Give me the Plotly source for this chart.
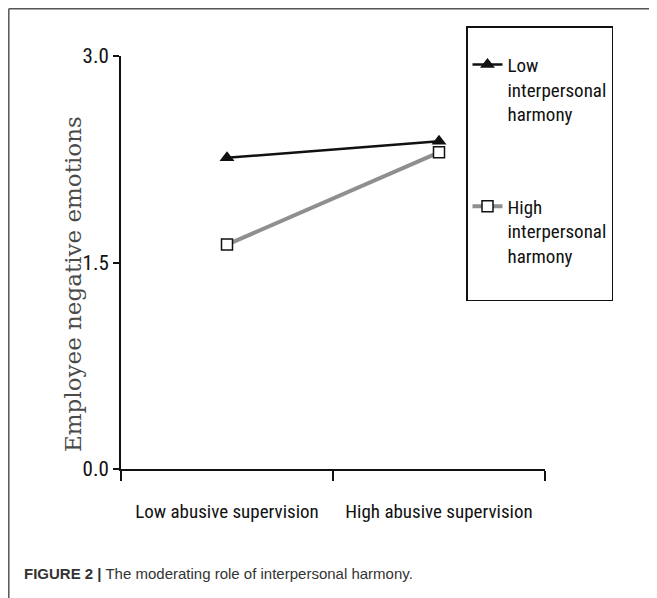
import plotly.graph_objects as go

# ---- data ----
categories = ["Low abusive supervision", "High abusive supervision"]
low_harmony = [2.26, 2.38]
high_harmony = [1.63, 2.30]
series_names = ["Low<br>interpersonal<br>harmony<br> ", "High<br>interpersonal<br>harmony<br> "]
y_ticks = [0.0, 1.5, 3.0]
y_title = "Employee negative emotions"
caption_bold = "FIGURE 2 |"
caption_text = " The moderating role of interpersonal harmony."

# ---- layout geometry (pixels, page coordinates; page body has an 8px margin) ----
OFF = 8
W, H = 657 - OFF, 598 - OFF
L, R, T, B = 121 - OFF, 545 - OFF, 56 - OFF, 469 - OFF
pw, ph = R - L, B - T

def px_x(x):
    return (x - OFF - L) / pw

def px_y(y):
    return (B - (y - OFF)) / ph

NARROW = "Roboto Condensed, DejaVu Sans Condensed, sans-serif"

fig = go.Figure()
fig.add_trace(go.Scatter(
    x=categories, y=low_harmony, name=series_names[0], mode="lines+markers",
    line=dict(color="#111111", width=2.5),
    marker=dict(symbol="triangle-up", size=13, color="#111111"),
    legendgroup="a",
))
fig.add_trace(go.Scatter(
    x=categories, y=high_harmony, name=series_names[1], mode="lines+markers",
    line=dict(color="#8f8f8f", width=4),
    marker=dict(symbol="square", size=11, color="white", line=dict(color="#111111", width=1.5)),
    legendgroup="b",
))

fig.update_layout(
    width=W, height=H,
    margin=dict(l=L, r=W - R, t=T, b=H - B, pad=0, autoexpand=False),
    paper_bgcolor="white", plot_bgcolor="white",
    font=dict(family=NARROW, size=19, color="#111111"),
    showlegend=True,
    legend=dict(
        x=px_x(466), y=px_y(26), xanchor="left", yanchor="top",
        bordercolor="#111111", borderwidth=1.5, bgcolor="white",
        font=dict(family=NARROW, size=19, color="#111111"),
        title=dict(text=" ", font=dict(size=14)),
        valign="top", tracegroupgap=40, itemwidth=30,
    ),
    xaxis=dict(
        type="category", range=[-0.5, 1.5], automargin=False, tickangle=0,
        showline=True, linecolor="#111111", linewidth=2,
        ticks="outside", tickson="boundaries", ticklen=10, tickwidth=2, tickcolor="#111111",
        showgrid=False, zeroline=False,
        tickfont=dict(family=NARROW, size=19, color="#111111"),
        ticklabelstandoff=24,
    ),
    yaxis=dict(
        range=[0, 3], tickvals=y_ticks, tickformat=".1f", automargin=False,
        showline=True, linecolor="#111111", linewidth=2,
        ticks="outside", ticklen=6, tickwidth=2, tickcolor="#111111",
        showgrid=False, zeroline=False,
        tickfont=dict(family=NARROW, size=21, color="#111111"),
    ),
    annotations=[
        dict(
            x=px_x(73), y=px_y(284), xref="paper", yref="paper",
            xanchor="center", yanchor="middle", showarrow=False, textangle=-90,
            text=y_title,
            font=dict(family="DejaVu Serif, serif", size=23, color="#4a4a4a"),
        ),
        dict(
            x=px_x(22), y=px_y(573), xref="paper", yref="paper",
            xanchor="left", yanchor="middle", showarrow=False,
            text="<b>" + caption_bold + "</b>" + caption_text,
            font=dict(family="Liberation Sans, Arial, sans-serif", size=15, color="#333333"),
        ),
    ],
    shapes=[
        dict(type="line", xref="paper", yref="paper",
             x0=px_x(8.8), x1=px_x(8.8), y0=px_y(8.8), y1=px_y(610),
             line=dict(color="#555555", width=1.5)),
        dict(type="line", xref="paper", yref="paper",
             x0=px_x(8.8), x1=px_x(670), y0=px_y(8.8), y1=px_y(8.8),
             line=dict(color="#555555", width=1.5)),
    ],
)

fig.write_html("out.html")
